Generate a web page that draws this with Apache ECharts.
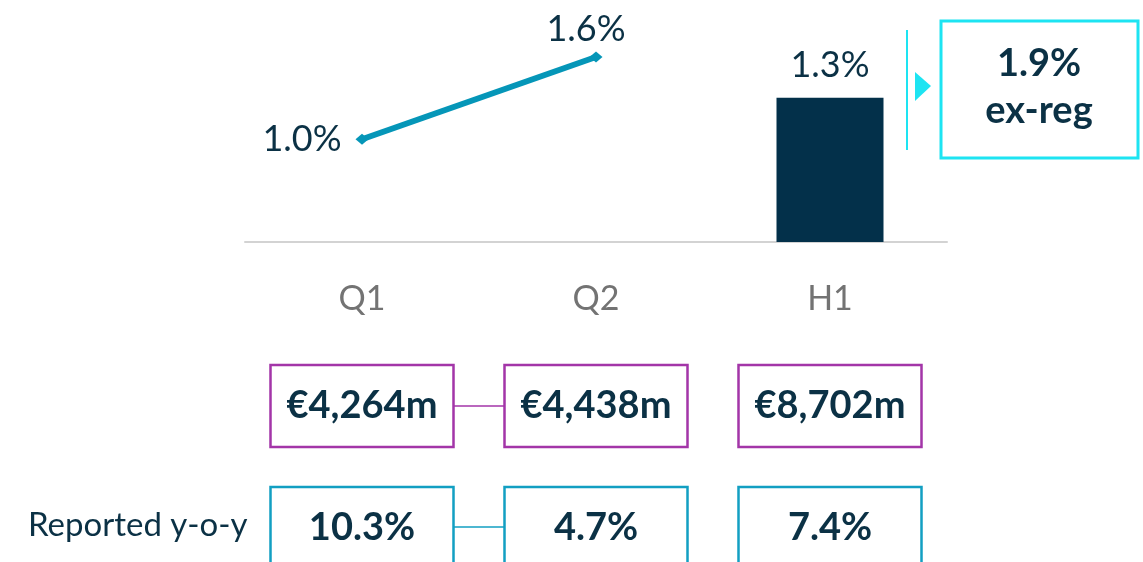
<!DOCTYPE html>
<html>
<head>
<meta charset="utf-8">
<script src="https://cdn.jsdelivr.net/npm/echarts@6/dist/echarts.min.js"></script>
<style>
  html, body { margin: 0; padding: 0; background: #fff; }
  #chart { width: 1143px; height: 562px; }
</style>
</head>
<body>
<div id="chart"></div>
<script>
// data
const categories = ['Q1', 'Q2', 'H1'];
const quarterGrowth = [1.0, 1.6, null];   // line, Q1..Q2
const halfGrowth = [null, null, 1.3];     // bar, H1
const revenue = ['€4,264m', '€4,438m', '€8,702m'];
const reportedYoy = ['10.3%', '4.7%', '7.4%'];
const exRegGrowth = '1.9%';

const navy = '#0b3145';
const font = 'Lato, "Open Sans", sans-serif';

const chart = echarts.init(document.getElementById('chart'));

// label positions per point (Q1 label sits left, Q2 above and a bit left)
const linePos = ['left', 'top', 'top'];
const lineOffset = [[0, 0], [-10, 2], [0, 0]];

const option = {
    animation: false,
    grid: { left: 245, right: 196, top: 20, bottom: 320 },
    xAxis: {
        type: 'category',
        data: categories,
        axisLine: { lineStyle: { color: '#d3d3d3', width: 2 } },
        axisTick: { show: false },
        axisLabel: { color: '#737373', fontSize: 34, fontFamily: font, margin: 40 }
    },
    yAxis: [
        { type: 'value', min: 0, max: 2.0, show: false },
        { type: 'value', min: 0.25, max: 1.87, show: false }
    ],
    series: [
        {
            type: 'bar',
            yAxisIndex: 0,
            barWidth: 107,
            itemStyle: { color: '#03304a' },
            label: {
                show: true, position: 'top', distance: 14,
                color: navy, fontSize: 36, fontFamily: font,
                formatter: p => p.value.toFixed(1) + '%'
            },
            data: halfGrowth
        },
        {
            type: 'line',
            yAxisIndex: 1,
            symbol: 'diamond',
            symbolSize: [13, 11],
            lineStyle: { color: '#0596b8', width: 6 },
            itemStyle: { color: '#0596b8' },
            data: quarterGrowth.map((v, i) => ({
                value: v,
                label: {
                    show: v != null,
                    position: linePos[i],
                    distance: i === 0 ? 14 : 6,
                    offset: lineOffset[i],
                    color: navy, fontSize: 36, fontFamily: font,
                    formatter: p => p.value.toFixed(1) + '%'
                }
            }))
        }
    ]
};
chart.setOption(option);

// boxes under each category, placed from the axis positions
const cx = categories.map(c => chart.convertToPixel({ xAxisIndex: 0 }, c));
const boxW = 183, boxH = 82;
const elements = [];

function box(x, y, text, stroke) {
    elements.push({
        type: 'rect',
        shape: { x: x - boxW / 2, y: y, width: boxW, height: boxH },
        style: { fill: '#fff', stroke: stroke, lineWidth: 2.5 }
    });
    elements.push({
        type: 'text',
        x: x, y: y + boxH / 2,
        style: {
            text: text, fill: navy, fontSize: 38, fontWeight: 'bold', fontFamily: font,
            textAlign: 'center', textVerticalAlign: 'middle'
        }
    });
}

// connectors Q1 -> Q2
elements.push({
    type: 'line',
    shape: { x1: cx[0] + boxW / 2, y1: 406, x2: cx[1] - boxW / 2, y2: 406 },
    style: { stroke: '#a335a8', lineWidth: 1.5 }
});
elements.push({
    type: 'line',
    shape: { x1: cx[0] + boxW / 2, y1: 527, x2: cx[1] - boxW / 2, y2: 527 },
    style: { stroke: '#129fc2', lineWidth: 1.5 }
});

revenue.forEach((t, i) => box(cx[i], 365, t, '#a335a8'));
reportedYoy.forEach((t, i) => box(cx[i], 487, t, '#129fc2'));

elements.push({
    type: 'text',
    x: 28, y: 525,
    style: {
        text: 'Reported y-o-y', fill: navy, fontSize: 33, fontFamily: font,
        textAlign: 'left', textVerticalAlign: 'middle'
    }
});

// ex-reg callout on the right
elements.push({
    type: 'line',
    shape: { x1: 907, y1: 30, x2: 907, y2: 150 },
    style: { stroke: '#1de4f2', lineWidth: 2 }
});
elements.push({
    type: 'polygon',
    shape: { points: [[915, 72], [931, 86], [915, 101]] },
    style: { fill: '#1de4f2' }
});
elements.push({
    type: 'rect',
    shape: { x: 941, y: 21, width: 197, height: 137 },
    style: { fill: '#fff', stroke: '#1de4f2', lineWidth: 3 }
});
elements.push({
    type: 'text',
    x: 1039, y: 64,
    style: {
        text: exRegGrowth, fill: navy, fontSize: 38, fontWeight: 'bold', fontFamily: font,
        textAlign: 'center', textVerticalAlign: 'middle'
    }
});
elements.push({
    type: 'text',
    x: 1039, y: 111,
    style: {
        text: 'ex-reg', fill: navy, fontSize: 38, fontWeight: 'bold', fontFamily: font,
        textAlign: 'center', textVerticalAlign: 'middle'
    }
});

chart.setOption({ graphic: { elements: elements } });
</script>
</body>
</html>
